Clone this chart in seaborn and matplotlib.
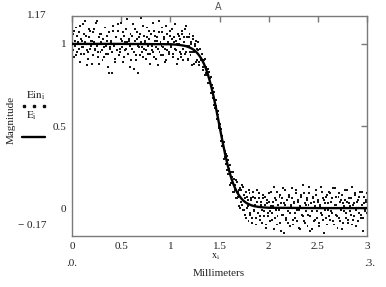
import numpy as np
import pandas as pd
import matplotlib
matplotlib.use("Agg")
import matplotlib.pyplot as plt
from matplotlib.lines import Line2D
import seaborn as sns

# ---------------- data ----------------
# samples on the grid x = 0.00, 0.01, ..., 3.00
grid_a = (0.0, 3.0, 301)
ein_values_a = [
    # x 0.00 - 0.19
    1.03, 0.96, 1.08, 0.99, 0.93, 1.05, 1.01, 0.97, 1.11, 0.94, 1.02, 0.98, 1.06, 1.14, 1.00, 0.87, 0.95, 1.09, 0.97, 1.02,
    # x 0.20 - 0.39
    0.88, 1.07, 1.01, 0.96, 1.13, 0.99, 0.92, 1.04, 1.00, 0.95, 1.06, 0.90, 1.03, 0.98, 1.10, 0.94, 1.02, 0.86, 0.82, 0.97,
    # x 0.40 - 0.59
    1.01, 0.82, 1.08, 0.99, 0.89, 1.04, 0.96, 1.12, 1.00, 0.95, 1.03, 0.98, 1.07, 0.92, 1.01, 0.97, 1.15, 0.94, 1.02, 0.99,
    # x 0.60 - 0.79
    0.90, 1.05, 1.00, 0.85, 1.09, 0.93, 1.03, 0.82, 0.98, 1.06, 1.01, 0.95, 1.11, 0.97, 1.02, 0.91, 1.04, 0.99, 1.08, 0.94,
    # x 0.80 - 0.99
    1.00, 0.96, 1.13, 0.92, 1.05, 0.98, 1.02, 0.87, 1.07, 0.95, 1.01, 0.99, 1.10, 0.93, 1.04, 0.97, 0.90, 1.06, 1.00, 0.95,
    # x 1.00 - 1.09
    1.08, 0.98, 1.03, 0.94, 1.01, 1.12, 0.96, 1.00, 0.91, 1.05,
    # x 1.10 - 1.49
    1.03, 0.92, 1.08, 0.97, 1.04, 0.94, 1.11, 0.99, 0.90, 1.04,
    0.95, 1.00, 0.87, 1.05, 0.95, 1.00, 0.89, 0.97, 1.01, 0.89,
    0.97, 0.90, 0.94, 0.84, 0.90, 0.91, 0.82, 0.85, 0.76, 0.83,
    0.77, 0.80, 0.70, 0.73, 0.63, 0.66, 0.66, 0.57, 0.59, 0.49,
    # x 1.50 - 1.95
    0.52, 0.46, 0.48, 0.38, 0.39, 0.30, 0.35, 0.27, 0.32, 0.21,
    0.24, 0.14, 0.22, 0.15, 0.22, 0.10, 0.14, 0.06, 0.16, 0.07,
    0.11, 0.00, 0.11, 0.02, 0.13, -0.01, 0.06, -0.06, 0.07, 0.01,
    0.11, -0.04, 0.05, -0.09, 0.07, -0.02, 0.02, -0.06, 0.11, -0.03,
    0.06, -0.07, 0.04, -0.01, 0.08, -0.05,
    # x 1.96 - 1.99
    0.02, -0.10, 0.05, -0.03,
    # x 2.00 - 2.19
    0.09, -0.02, 0.01, -0.07, 0.04, -0.13, 0.06, -0.01, 0.10, -0.05, 0.00, 0.07, -0.09, 0.03, -0.04, 0.12, -0.15, 0.02, -0.06, 0.05,
    # x 2.20 - 2.39
    -0.02, 0.08, -0.11, 0.01, 0.06, -0.07, 0.03, -0.03, 0.11, -0.08, 0.04, -0.01, -0.13, 0.07, 0.00, -0.05, 0.09, -0.09, 0.02, 0.05,
    # x 2.40 - 2.59
    -0.04, 0.13, -0.14, 0.03, -0.02, 0.06, -0.08, 0.01, 0.08, -0.06, 0.04, -0.11, 0.02, -0.03, 0.10, -0.07, 0.05, -0.01, 0.07, -0.10,
    # x 2.60 - 2.79
    0.03, -0.05, 0.09, -0.02, 0.06, -0.08, 0.00, 0.12, -0.04, 0.02, -0.12, 0.07, -0.06, 0.04, -0.01, 0.08, -0.09, 0.01, 0.05, -0.03,
    # x 2.80 - 3.00
    0.11, -0.07, 0.03, -0.02, 0.06, -0.10, 0.02, -0.05, 0.09, -0.01, 0.04, -0.08, 0.07, 0.00, -0.04, 0.10, -0.06, 0.03, -0.02, 0.05,
    -0.03,
]

# samples on the grid x = 0.005, 0.015, ..., 2.995
grid_b = (0.005, 2.995, 300)
ein_values_b = [
    # x 0.005 - 1.095
    0.97, 1.06, 0.92, 1.02, 1.10, 0.95, 1.00, 1.07, 0.89, 1.03, 0.98, 1.12, 0.94, 1.01, 1.05, 0.96, 0.91, 1.04, 1.08, 0.99,
    1.02, 0.93, 1.09, 0.97, 1.00, 1.14, 0.95, 0.88, 1.06, 1.01, 0.96, 1.03, 0.92, 1.10, 0.99, 1.05, 0.94, 1.07, 0.98, 1.02,
    0.95, 1.11, 0.99, 0.91, 1.04, 1.00, 1.08, 0.93, 0.97, 1.13, 1.02, 0.89, 1.05, 0.96, 1.09, 1.01, 0.94, 1.03, 0.86, 1.06,
    1.00, 0.97, 1.12, 0.95, 1.02, 0.90, 1.07, 0.99, 1.04, 0.93, 1.16, 0.98, 0.92, 1.05, 1.01, 0.96, 1.10, 0.94, 1.03, 0.88,
    1.06, 0.99, 0.95, 1.08, 1.02, 0.91, 1.04, 0.97, 1.14, 1.00, 0.93, 1.07, 0.98, 1.03, 0.89, 1.11, 0.96, 1.01, 0.94, 1.05,
    0.99, 1.09, 0.92, 1.04, 0.97, 1.02, 0.88, 1.06, 1.00, 0.95,
    # x 1.105 - 1.945
    0.94, 1.06, 0.90, 1.01, 1.09, 0.95, 1.04, 0.91, 0.99, 1.06,
    0.93, 1.01, 0.95, 1.03, 0.88, 0.99, 1.02, 0.90, 0.96, 0.87,
    0.97, 0.90, 0.94, 0.86, 0.90, 0.81, 0.86, 0.81, 0.85, 0.76,
    0.79, 0.70, 0.75, 0.67, 0.71, 0.61, 0.62, 0.54, 0.57, 0.50,
    0.51, 0.41, 0.44, 0.38, 0.40, 0.31, 0.33, 0.23, 0.29, 0.21,
    0.26, 0.15, 0.19, 0.10, 0.18, 0.11, 0.17, 0.06, 0.10, 0.01,
    0.12, 0.04, 0.14, -0.01, 0.08, -0.04, 0.10, 0.00, 0.05, -0.08,
    0.09, -0.03, 0.06, -0.06, 0.10, -0.01, 0.06, -0.10, 0.04, -0.03,
    0.09, -0.05, 0.02, -0.09, 0.06,
    # x 1.955 - 2.995
    -0.02, 0.07, -0.12, 0.03, -0.05,
    0.04, -0.08, 0.10, -0.03, 0.01, 0.13, -0.06, 0.05, -0.10, 0.02, -0.01, 0.08, -0.14, 0.06, -0.04, 0.03, 0.11, -0.07, 0.00, -0.09,
    0.07, -0.03, 0.02, 0.12, -0.10, 0.04, -0.06, 0.09, -0.01, 0.05, -0.12, 0.01, 0.08, -0.04, 0.14, -0.08, 0.03, -0.02, 0.06, -0.11,
    0.02, 0.09, -0.05, 0.00, -0.13, 0.07, 0.04, -0.07, 0.11, -0.02, 0.05, -0.09, 0.01, 0.13, -0.04, 0.06, -0.15, 0.03, -0.06, 0.08,
    -0.01, 0.10, -0.07, 0.04, -0.03, 0.12, -0.10, 0.02, 0.07, -0.05, 0.00, 0.09, -0.08, 0.05, -0.13, 0.03, -0.02, 0.11, -0.06, 0.04,
    -0.09, 0.06, 0.01, -0.04, 0.13, -0.07, 0.03, 0.08, -0.11, 0.00, 0.05, -0.03, 0.10, -0.06, 0.02, -0.14, 0.07, -0.01, 0.04, 0.09,
]

line_x = [0.0, 0.5, 1.0, 1.05, 1.10, 1.12, 1.14, 1.16, 1.18, 1.20, 1.22, 1.24, 1.26, 1.28,
          1.30, 1.32, 1.34, 1.36, 1.38, 1.40, 1.42, 1.44, 1.46, 1.48, 1.50, 1.52, 1.54,
          1.56, 1.58, 1.60, 1.62, 1.64, 1.66, 1.68, 1.70, 1.72, 1.74, 1.76, 1.78, 1.80,
          1.82, 1.84, 1.86, 1.88, 1.90, 1.95, 2.0, 2.5, 3.0]
line_y = [1.0, 1.0, 0.998, 0.996, 0.993, 0.991, 0.989, 0.986, 0.982, 0.977, 0.971, 0.963,
          0.953, 0.940, 0.924, 0.905, 0.881, 0.852, 0.818, 0.777, 0.731, 0.679, 0.622,
          0.562, 0.500, 0.438, 0.378, 0.321, 0.269, 0.223, 0.182, 0.148, 0.119, 0.095,
          0.076, 0.060, 0.047, 0.037, 0.029, 0.023, 0.018, 0.014, 0.011, 0.009, 0.007,
          0.004, 0.002, 0.0, 0.0]

x_ticks = [0, 0.5, 1, 1.5, 2, 2.5, 3]
x_tick_labels = ["0", "0.5", "1", "1.5", "2", "2.5", "3"]
y_ticks = [0, 0.5, 1]
y_tick_labels = ["0", "0.5", "1"]
y_min, y_max = -0.17, 1.17
x_min, x_max = 0, 3

# ---------------- plot ----------------
sns.set_style("white")
plt.rcParams["font.family"] = ["Liberation Serif", "DejaVu Serif"]
plt.rcParams["mathtext.fontset"] = "stix"

fig = plt.figure(figsize=(3.86, 2.87), dpi=100)
ax = fig.add_axes([72 / 386, 1 - 236 / 287, (367 - 72) / 386, (236 - 16) / 287])

pts = pd.concat([
    pd.DataFrame({"x": np.linspace(*grid_a), "Ein": ein_values_a}),
    pd.DataFrame({"x": np.linspace(*grid_b), "Ein": ein_values_b}),
], ignore_index=True)
line = pd.DataFrame({"x": line_x, "E": line_y})

sns.scatterplot(data=pts, x="x", y="Ein", ax=ax, marker="s", s=2.0, color="#151515",
                edgecolor="none", linewidth=0, zorder=2)
sns.lineplot(data=line, x="x", y="E", ax=ax, color="black", linewidth=1.7, zorder=3)

ax.set_xlim(x_min, x_max)
ax.set_ylim(y_min, y_max)
ax.set_xticks(x_ticks)
ax.set_xticklabels(x_tick_labels)
ax.set_yticks(y_ticks)
ax.set_yticklabels(y_tick_labels)
ax.set_xlabel("")
ax.set_ylabel("")

gray = "#7a7a7a"
for sp in ax.spines.values():
    sp.set_color(gray)
    sp.set_linewidth(1.0)
ax.tick_params(axis="both", direction="in", length=4.5, width=1.0, color=gray,
               labelsize=8, labelcolor="#222222", top=True, right=True, pad=4)

# axis-limit labels and extra texts (Mathcad style)
txt_kw = dict(fontsize=8, color="#222222")
fig.text(47 / 386, 1 - 15 / 287, "1.17", ha="right", va="center", **txt_kw)
fig.text(47 / 386, 1 - 225 / 287, "\u2212 0.17", ha="right", va="center", **txt_kw)
fig.text(72 / 386, 1 - 263 / 287, ".0.", ha="center", va="center", **txt_kw)
fig.text(370 / 386, 1 - 263 / 287, ".3.", ha="center", va="center", **txt_kw)
fig.text(216 / 386, 1 - 257 / 287, r"$\mathrm{x}_{\mathrm{i}}$", ha="center", va="center",
         fontsize=7.5, color="#222222")
fig.text(219 / 386, 1 - 273 / 287, "Millimeters", ha="center", va="center", **txt_kw)
fig.text(218 / 386, 1 - 7 / 287, "A", ha="center", va="center", fontsize=7,
         color="#555555", family="DejaVu Sans")

# y label and legend
fig.text(11 / 386, 1 - 120 / 287, "Magnitude", rotation=90, ha="center", va="center", **txt_kw)
fig.text(26 / 386, 1 - 96 / 287, r"$\mathrm{Ein}_{\mathrm{i}}$", ha="left", va="center", **txt_kw)
fig.add_artist(Line2D([24 / 386, 34 / 386, 44 / 386], [1 - 106 / 287] * 3, transform=fig.transFigure,
                      linestyle="none", marker="s", markersize=1.5, color="#111111"))
fig.text(26 / 386, 1 - 116 / 287, r"$\mathrm{E}_{\mathrm{i}}$", ha="left", va="center", **txt_kw)
fig.add_artist(Line2D([22 / 386, 45 / 386], [1 - 137 / 287] * 2, transform=fig.transFigure,
                      color="black", linewidth=1.7))

fig.savefig("out.png", dpi=100)
